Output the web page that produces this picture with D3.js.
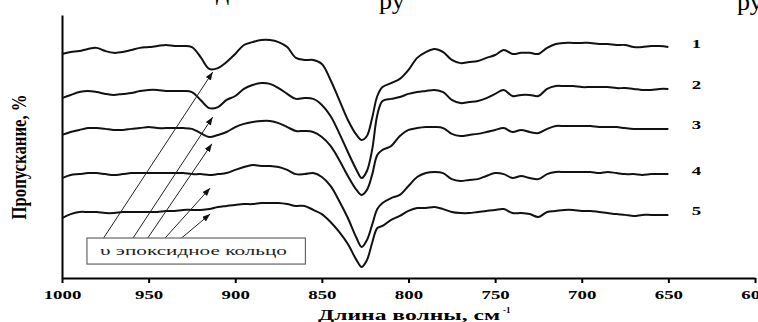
<!DOCTYPE html>
<html><head><meta charset="utf-8">
<script src="https://cdn.jsdelivr.net/npm/d3@7"></script>
<style>html,body{margin:0;padding:0;background:#fff;overflow:hidden}</style>
</head><body><svg id="c" width="758" height="322"></svg>
<script>
// ---- data ----
const wavenumbers = [1000,995,990,985,980,975,970,965,960,955,
  950,945,940,935,930,925,920,915,910,905,
  900,895,890,885,880,875,870,865,860,855,
  850,845,840,835,830,827,824,821,818,815,
  810,805,800,795,790,785,780,775,770,765,
  760,755,750,745,740,735,730,725,720,715,
  710,705,700,695,690,685,680,675,670,665,
  660,655,650];
const spectrum1 = [85.2,85.9,86.3,87.1,87.5,86.3,85.6,85.9,86.7,87.5,
  87.8,88.2,88.6,88.2,88.2,87.8,84.0,79.5,79.8,82.1,
  85.2,88.6,89.7,90.5,90.5,89.7,87.8,83.7,82.9,82.9,
  81.4,75.3,67.7,60.1,54.4,52.5,54.0,60.8,69.2,72.6,
  74.1,75.7,79.1,83.7,85.9,87.1,85.9,82.9,81.7,82.1,
  82.5,83.7,84.8,86.7,85.2,85.6,85.6,85.2,87.5,89.0,
  89.4,89.4,89.4,89.4,89.0,89.0,88.6,88.6,87.8,87.8,
  88.2,88.2,87.8];
const spectrum2 = [68.4,69.6,70.7,71.1,70.7,70.0,69.6,70.0,70.3,71.1,
  71.5,71.5,71.1,71.1,71.1,70.7,67.7,64.6,65.0,67.7,
  69.2,71.9,73.4,74.1,73.8,72.2,70.0,68.1,68.4,68.1,
  65.8,61.6,55.1,47.9,41.1,38.0,40.7,48.7,62.0,67.3,
  68.1,68.8,70.0,70.7,71.1,71.5,70.7,67.7,66.5,66.9,
  67.3,68.4,70.0,71.5,69.2,69.6,69.6,69.2,71.9,73.0,
  73.0,73.0,72.6,72.6,72.6,72.6,72.2,72.2,71.9,71.5,
  71.5,71.9,71.9];
const spectrum3 = [54.4,55.5,56.3,57.0,57.0,56.7,56.3,56.3,56.7,57.0,
  57.4,57.0,57.0,57.0,57.0,56.7,55.1,53.6,54.4,55.5,
  57.4,58.6,59.3,59.7,59.7,58.9,57.4,55.9,55.9,55.5,
  53.6,50.2,44.9,38.8,33.5,31.6,33.5,39.2,46.8,48.7,
  50.2,54.0,56.3,57.0,57.4,57.4,57.0,54.8,54.0,54.4,
  54.8,55.5,56.3,57.0,55.5,56.3,55.5,55.1,56.7,57.8,
  57.8,57.8,57.8,57.8,57.4,57.4,57.4,57.0,56.7,56.7,
  56.7,56.7,56.7];
const spectrum4 = [38.0,39.2,39.5,39.9,39.9,39.5,39.2,39.5,39.9,39.9,
  39.9,39.9,39.9,39.9,39.9,39.5,39.5,39.2,39.5,39.9,
  41.1,42.2,43.0,42.6,42.6,42.2,41.1,39.5,39.5,39.9,
  38.4,35.0,29.3,22.8,15.2,11.8,14.4,20.2,26.2,28.5,
  30.4,31.6,35.0,38.4,39.9,40.3,39.9,37.6,36.9,37.3,
  37.6,38.8,39.9,39.5,38.0,38.8,38.0,37.6,39.5,40.3,
  40.3,40.3,40.3,40.3,39.9,40.3,39.9,39.5,39.5,39.2,
  39.5,39.5,39.5];
const spectrum5 = [22.8,24.3,25.1,25.1,25.1,24.7,24.7,25.1,25.1,25.1,
  25.1,25.1,25.5,25.5,25.9,25.9,25.9,26.2,27.0,27.4,
  27.8,28.1,28.1,28.5,28.5,28.5,28.1,27.4,27.4,25.9,
  24.3,21.3,17.5,12.9,6.8,4.2,6.8,13.3,19.0,19.8,
  22.1,23.6,25.5,26.6,26.6,27.0,26.2,25.1,24.7,24.7,
  25.1,25.5,25.9,26.2,24.7,24.7,24.3,23.2,25.1,25.5,
  25.9,25.9,25.5,25.5,25.1,24.7,24.3,24.0,23.6,24.0,
  24.0,24.0,24.0];
const seriesLabels = ["1","2","3","4","5"];
const xTicks = [1000,950,900,850,800,750,700,650,600];
// epoxy ring arrows: start (on annotation box) and tip (near the 913 cm-1 band)
const arrowStartWn = [976,959,950.5,940.5,931];
const arrowTipWn   = [913,913,913.5,914.5,914.5];
const arrowTipVal  = [78.3,61.2,51.0,34.2,24.3];
const annotationText = "υ эпоксидное кольцо";
const yTitle = "Пропускание, %";
const xTitle = "Длина волны, см";
const xTitleSup = "-1";
const topFragments = ["д","ру","ру"];

// ---- drawing ----
const svg = d3.select("#c");
const serif = "'Liberation Serif','Times New Roman',serif";
const x = d3.scaleLinear().domain([1000,600]).range([62,755]);
const y = d3.scaleLinear().domain([0,100]).range([278,15]);

// cut-off text line from page above
const fragPos = [[216,0],[379,9],[737,10]];
svg.append("g").selectAll("text").data(topFragments).join("text")
  .attr("x",(d,i)=>fragPos[i][0]).attr("y",(d,i)=>fragPos[i][1])
  .attr("font-family",serif).attr("font-size",26).attr("fill","#000").text(d=>d);

// axes
const gx = svg.append("g").attr("transform","translate(0,"+y(0)+")")
  .call(d3.axisBottom(x).tickValues(xTicks).tickSize(5).tickSizeOuter(0).tickFormat(d3.format("d")));
gx.select(".domain").attr("stroke","#000").attr("stroke-width",2);
gx.selectAll(".tick line").attr("stroke","#000").attr("stroke-width",2);
gx.selectAll(".tick text").attr("y",12).attr("dy","0.71em")
  .attr("font-family",serif).attr("font-weight","bold").attr("font-size",13)
  .attr("fill","#000").attr("transform","scale(1.45,1)");

const gy = svg.append("g").attr("transform","translate("+x(1000)+",0)")
  .call(d3.axisLeft(y).tickValues([]).tickSizeOuter(0));
gy.select(".domain").attr("stroke","#000").attr("stroke-width",2);

// spectra
const allSeries = [spectrum1,spectrum2,spectrum3,spectrum4,spectrum5];
const line = d3.line().x((d,i)=>x(wavenumbers[i])).y(d=>y(d)).curve(d3.curveCatmullRom.alpha(0.5));
svg.append("g").selectAll("path").data(allSeries).join("path")
  .attr("d",d=>line(d)).attr("fill","none").attr("stroke","#111")
  .attr("stroke-width",2).attr("stroke-linejoin","round");

// series labels
svg.append("g").selectAll("text").data(seriesLabels).join("text")
  .attr("transform",(d,i)=>"translate("+(x(650)+28)+","+(y(allSeries[i][allSeries[i].length-1])-4)+") scale(1.45,1)")
  .attr("dy","0.35em").attr("text-anchor","middle")
  .attr("font-family",serif).attr("font-weight","bold").attr("font-size",13).attr("fill","#000")
  .text(d=>d);

// arrows
const defs = svg.append("defs");
defs.append("marker").attr("id","ah").attr("markerUnits","userSpaceOnUse")
  .attr("markerWidth",9).attr("markerHeight",7).attr("refX",8).attr("refY",3)
  .attr("orient","auto").append("path").attr("d","M0,0L8,3L0,6Z").attr("fill","#111");
const boxTop = 15.2, boxBottom = 5.3, boxLeftWn = 985.6, boxRightWn = 859.5;
svg.append("g").selectAll("line").data(arrowStartWn).join("line")
  .attr("x1",d=>x(d)).attr("y1",y(boxTop))
  .attr("x2",(d,i)=>x(arrowTipWn[i])).attr("y2",(d,i)=>y(arrowTipVal[i]))
  .attr("stroke","#222").attr("stroke-width",1).attr("marker-end","url(#ah)");

// annotation box
svg.append("rect").attr("x",x(boxLeftWn)).attr("y",y(boxTop))
  .attr("width",x(boxRightWn)-x(boxLeftWn)).attr("height",y(boxBottom)-y(boxTop))
  .attr("fill","#fff").attr("stroke","#666").attr("stroke-width",1.2);
svg.append("text").attr("x",100).attr("y",254.5)
  .attr("font-family",serif).attr("font-size",13).attr("fill","#222")
  .attr("textLength",187).attr("lengthAdjust","spacingAndGlyphs").text(annotationText);

// axis titles
svg.append("text").attr("x",318).attr("y",320)
  .attr("font-family",serif).attr("font-weight","bold").attr("font-size",14).attr("fill","#000")
  .attr("textLength",182).attr("lengthAdjust","spacingAndGlyphs").text(xTitle);
svg.append("text").attr("x",503).attr("y",313)
  .attr("font-family",serif).attr("font-weight","bold").attr("font-size",9).attr("fill","#000")
  .text(xTitleSup);
svg.append("text").attr("transform","translate(26,157) rotate(-90) scale(1,1.45)")
  .attr("text-anchor","middle")
  .attr("font-family",serif).attr("font-weight","bold").attr("font-size",15).attr("fill","#000")
  .attr("textLength",125).attr("lengthAdjust","spacingAndGlyphs").text(yTitle);
</script>
</body></html>
